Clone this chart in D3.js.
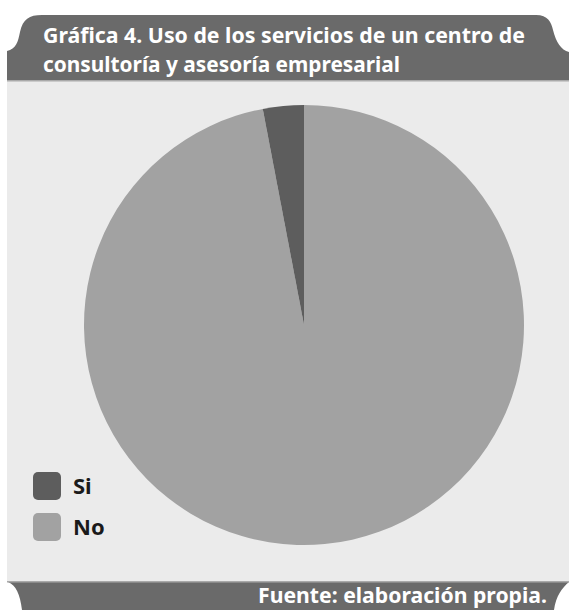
<!DOCTYPE html>
<html>
<head>
<meta charset="utf-8">
<script src="https://cdn.jsdelivr.net/npm/d3@7"></script>
<style>
  html, body { margin: 0; padding: 0; background: #ffffff; }
  svg { display: block; }
  text { font-family: "Noto Sans", "Open Sans", sans-serif; font-weight: 700; }
</style>
</head>
<body>
<script>
// Pie data: share of firms that use a consulting / business advisory centre
const categories = ["Si", "No"];
const values = [3, 97];
const titleLines = ["Gráfica 4. Uso de los servicios de un centro de",
                    "consultoría y asesoría empresarial"];
const sourceNote = "Fuente: elaboración propia.";

const W = 569, H = 610;
const colors = { Si: "#5d5d5d", No: "#a2a2a2" };

const svg = d3.select("body").append("svg")
  .attr("width", W).attr("height", H);

// light panel behind the chart
svg.append("rect")
  .attr("x", 7).attr("y", 80).attr("width", W - 7).attr("height", 502)
  .attr("fill", "#ebebeb");

// header tab
svg.append("path")
  .attr("d", "M7,80 L7,51 C16,49 18,42 20,32 C23,19 29,15 42,15 L536,15 " +
             "C548,15 551,22 553,30 C556,42 561,50 569,52 L569,80 Z")
  .attr("fill", "#6a6a6a");
svg.append("rect").attr("x", 7).attr("y", 80).attr("width", W - 7).attr("height", 1.5)
  .attr("fill", "#a9a9a9");

// footer band
svg.append("path")
  .attr("d", "M8,582 L569,582 C562,588 556,596 554,610 L22,610 C20,594 16,585 8,582 Z")
  .attr("fill", "#6a6a6a");
svg.append("rect").attr("x", 7).attr("y", 581).attr("width", W - 7).attr("height", 1.5)
  .attr("fill", "#a9a9a9");

// title
const titleWidths = [482, 357];
titleLines.forEach((t, i) => {
  svg.append("text")
    .attr("x", 43).attr("y", 43 + i * 29)
    .attr("font-size", 22)
    .attr("fill", "#ffffff")
    .attr("textLength", titleWidths[i])
    .attr("lengthAdjust", "spacingAndGlyphs")
    .text(t);
});

// source note
svg.append("text")
  .attr("x", 547).attr("y", 603)
  .attr("text-anchor", "end")
  .attr("font-size", 22)
  .attr("fill", "#ffffff")
  .attr("textLength", 289)
  .attr("lengthAdjust", "spacingAndGlyphs")
  .text(sourceNote);

// pie: "No" drawn first clockwise from 12 o'clock so "Si" closes at the top-left
const cx = 304, cy = 325, r = 220;
const pieData = categories.map((c, i) => ({ cat: c, val: values[i] })).reverse();
const pie = d3.pie().sort(null).value(d => d.val);
const arc = d3.arc().innerRadius(0).outerRadius(r);

svg.append("g")
  .attr("transform", `translate(${cx},${cy})`)
  .selectAll("path")
  .data(pie(pieData))
  .join("path")
  .attr("d", arc)
  .attr("fill", d => colors[d.data.cat]);

// legend
const legend = svg.append("g").attr("transform", "translate(33,472)");
const item = legend.selectAll("g").data(categories).join("g")
  .attr("transform", (d, i) => `translate(0,${i * 41})`);
item.append("rect")
  .attr("width", 28).attr("height", 28).attr("rx", 5)
  .attr("fill", d => colors[d]);
item.append("text")
  .attr("x", 40).attr("y", 22)
  .attr("font-size", 22)
  .attr("fill", "#1a1a1a")
  .text(d => d);
</script>
</body>
</html>
